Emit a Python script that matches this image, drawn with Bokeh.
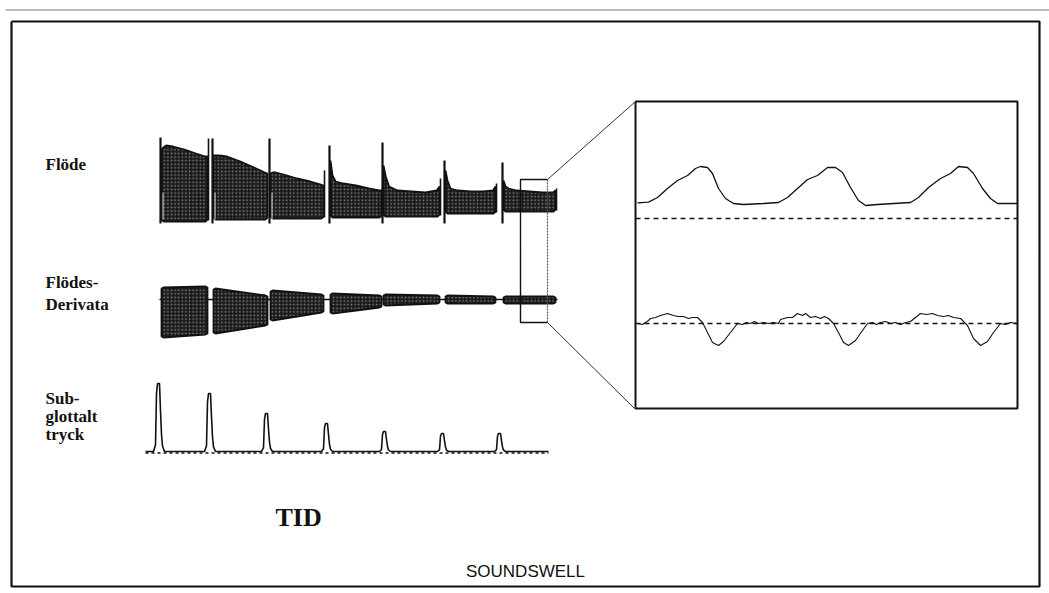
import numpy as np
from bokeh.plotting import figure
from bokeh.models import Range1d
from bokeh.embed import file_html
from bokeh.resources import INLINE
from bokeh.core.properties import value

W, H = 1049, 593

# ---------------------------------------------------------------
# Glottal cycles (time in samples from the start of the recording)
# ---------------------------------------------------------------
cycle_start = [16, 68, 125, 185, 238, 300, 358]
cycle_stop = [62, 122, 178, 236, 294, 350, 410]

# Airflow: peak at closure, envelope of the fast oscillation, floor
flow_spike = [85, 84, 84, 77, 80, 62, 60]
flow_end_peak = [84, 0, 52, 34, 44, 39, 34]
flow_env_frac = [0, 0.04, 0.1, 0.25, 0.5, 0.75, 0.95, 1.0]
flow_top = [
    [73, 75, 77, 76, 73, 69, 66, 66],
    [67, 67, 67, 66, 61, 55, 50, 49],
    [49, 50, 50, 48, 44, 41, 38, 37],
    [62, 47, 41, 39, 37, 34, 32, 32],
    [57, 46, 36, 32, 31, 30, 32, 36],
    [52, 42, 34, 32, 31, 31, 32, 36],
    [42, 36, 34, 32, 31, 30, 30, 32],
]
flow_floor = [1, 3, 4, 5, 6, 9, 11]

# Flow derivative envelope at the start / end of each cycle
deriv_top_start = [12, 11, 9, 6, 5, 4, 3]
deriv_top_end = [13, 4, 5, 4, 4, 3, 3]
deriv_bot_start = [-38, -34, -21, -14, -6, -4, -4]
deriv_bot_end = [-35, -26, -13, -8, -4, -4, -4]

# Subglottal pressure pulses
pulse_time = [13, 64, 121, 181, 239, 297, 354]
pulse_height = [68, 58, 38, 28, 20, 18, 18]
trace_length = 403

# Magnified excerpt: three periods of flow and its derivative
zoom_flow_t = [2, 13, 22, 32, 42, 52, 60, 65, 72, 77, 83, 90, 98, 108, 128, 143,
               152, 162, 172, 182, 192, 200, 207, 215, 223, 230, 242, 275,
               283, 293, 305, 315, 323, 332, 338, 347, 355, 362, 382]
zoom_flow_v = [15.7, 16.3, 21, 30, 38, 43, 50, 52, 51, 45, 30, 20, 15, 14, 15, 16,
               21, 30, 39, 43, 51, 51, 46, 31, 18, 13, 14, 16,
               21, 31, 40, 45, 52, 51, 45, 30, 20, 15, 15]
zoom_deriv_t = [2, 7, 13, 15, 20, 25, 32, 35, 38, 43, 48, 53, 57, 62, 67, 72, 77,
                83, 88, 95, 102, 107, 111, 115, 119, 123, 128, 133, 138, 143,
                145, 152, 157, 162, 167, 170, 175, 180, 185, 189, 193, 198, 203,
                208, 213, 220, 227, 232, 237, 241, 245, 250, 255, 260, 265, 270,
                275, 280, 285, 291, 297, 302, 308, 313, 318, 325, 332, 338, 345,
                352, 358, 365, 370, 375, 382]
zoom_deriv_v = [0, -1, 3, 5, 6, 8, 10, 9, 8, 7, 7, 5, 6, 6, 1, -9, -19,
                -22, -18, -9, 0, -1, 1, 0, 2, 0, 1, 0, 1, 0,
                4, 6, 6, 10, 8, 10, 6, 7, 5, 7, 5, 0, -9,
                -19, -22, -17, -7, 0, 1, -1, 1, 2, 0, 1, -1, 1,
                2, 6, 10, 9, 10, 8, 7, 8, 6, 5, -2, -15, -22,
                -18, -9, 0, -1, 1, 0]

# ---------------------------------------------------------------
# Canvas placement of the three recordings and the magnified view
# ---------------------------------------------------------------
X0 = 145          # left edge of the time axis
FLOW_Y0 = 222     # zero line of the airflow trace
DERIV_Y0 = 299    # zero line of the derivative trace
PRESS_Y0 = 451    # zero line of the pressure trace
BOX_X0, BOX_X1 = 635, 1017
BOX_Y0, BOX_Y1 = 101, 408
ZFLOW_Y0 = 218
ZDERIV_Y0 = 323

p = figure(width=W, height=H, output_backend="svg", toolbar_location=None,
           x_range=Range1d(0, W), y_range=Range1d(H, 0),
           min_border=0, outline_line_color=None)
p.axis.visible = False
p.grid.visible = False
p.background_fill_color = "white"
p.border_fill_color = "white"

ink = "#111111"
stipple = dict(fill_color="#1a1a1a", hatch_pattern="dot", hatch_color="white",
               hatch_alpha=0.45, hatch_scale=3.6, hatch_weight=1.0,
               line_color=ink, line_width=1.8)

# --- airflow blocks -------------------------------------------------
fxs, fys = [], []
for s, e, top, fl in zip(cycle_start, cycle_stop, flow_top, flow_floor):
    xs = [X0 + s + f * (e - s) for f in flow_env_frac]
    ys = [FLOW_Y0 - v for v in top]
    xs += [X0 + e, X0 + e - 2, X0 + s + 2, X0 + s]
    ys += [FLOW_Y0 - fl - 2, FLOW_Y0 - fl, FLOW_Y0 - fl, FLOW_Y0 - fl - 2]
    fxs.append(xs)
    fys.append(ys)
p.patches(fxs, fys, **stipple)

# closure peaks of the airflow
p.segment(x0=[X0 + s - 1 for s in cycle_start], y0=[FLOW_Y0 + 1] * 7,
          x1=[X0 + s - 1 for s in cycle_start],
          y1=[FLOW_Y0 - v for v in flow_spike], line_color=ink, line_width=2.2)
ex = [X0 + e + 1 for e, v in zip(cycle_stop, flow_end_peak) if v > 0]
ey = [FLOW_Y0 - v for v in flow_end_peak if v > 0]
eb = [FLOW_Y0 - fl - 1 for fl, v in zip(flow_floor, flow_end_peak) if v > 0]
p.segment(x0=ex, y0=eb, x1=ex, y1=ey, line_color=ink, line_width=1.6)
# light trace edge at each opening
p.segment(x0=[X0 + s + 1.5 for s in cycle_start[:3]],
          y0=[FLOW_Y0 - 30] * 3,
          x1=[X0 + s + 1.5 for s in cycle_start[:3]],
          y1=[FLOW_Y0 - 3] * 3, line_color="#dddddd", line_width=1)

# --- derivative blocks ------------------------------------------------
p.line([X0 + cycle_start[0] - 2, X0 + cycle_stop[-1] + 2], [DERIV_Y0, DERIV_Y0],
       line_color=ink, line_width=1.5)
dxs, dys = [], []
for s, e, ts, te, bs, be in zip(cycle_start, cycle_stop, deriv_top_start,
                                deriv_top_end, deriv_bot_start, deriv_bot_end):
    dxs.append([X0 + s, X0 + s + 2, X0 + e - 2, X0 + e,
                X0 + e, X0 + e - 2, X0 + s + 2, X0 + s])
    dys.append([DERIV_Y0 - ts + 1, DERIV_Y0 - ts, DERIV_Y0 - te, DERIV_Y0 - te + 1,
                DERIV_Y0 - be - 1, DERIV_Y0 - be, DERIV_Y0 - bs, DERIV_Y0 - bs - 1])
p.patches(dxs, dys, **stipple)

# --- subglottal pressure ---------------------------------------------------
pulse_dx = [-5, -3, -2, -1, 1, 2, 3, 4, 6]
pulse_shape = [0, 0.1, 0.85, 1.0, 1.0, 0.6, 0.25, 0.08, 0]
px, py = [X0], [PRESS_Y0]
for t, h in zip(pulse_time, pulse_height):
    for dx, r in zip(pulse_dx, pulse_shape):
        px.append(X0 + t + dx)
        py.append(PRESS_Y0 - r * h)
px.append(X0 + trace_length)
py.append(PRESS_Y0)
p.line(px, py, line_color=ink, line_width=1.6)
p.line([X0, X0 + trace_length], [PRESS_Y0 + 1.5] * 2, line_color=ink,
       line_width=1.3, line_dash="3 3")

# --- magnifier ---------------------------------------------------------
p.line([547, 520, 520, 547], [179, 179, 322, 322], line_color=ink,
       line_width=1.4)
p.line([547, 547], [179, 322], line_color="#555555", line_width=1.2,
       line_dash="2 1")
p.line([547, BOX_X0], [179, BOX_Y0], line_color="#333333", line_width=1)
p.line([547, BOX_X0 - 1], [322, BOX_Y1], line_color="#333333", line_width=1)
p.line([BOX_X0, BOX_X1, BOX_X1, BOX_X0, BOX_X0],
       [BOX_Y0, BOX_Y0, BOX_Y1, BOX_Y1, BOX_Y0], line_color=ink, line_width=2)

p.line([BOX_X0, BOX_X1], [ZFLOW_Y0] * 2, line_color=ink, line_width=1.3,
       line_dash="5 4")
p.line([BOX_X0, BOX_X1], [ZDERIV_Y0] * 2, line_color=ink, line_width=1.3,
       line_dash="5 4")
p.line([BOX_X0 + t for t in zoom_flow_t], [ZFLOW_Y0 - v for v in zoom_flow_v],
       line_color=ink, line_width=1.3)
p.line([BOX_X0 + t for t in zoom_deriv_t], [ZDERIV_Y0 - v for v in zoom_deriv_v],
       line_color=ink, line_width=1.1)

# --- frame ------------------------------------------------------------------
p.line([5, W], [9.5, 9.5], line_color="#777777", line_width=1)
p.line([11, 1039, 1039, 11, 11], [21, 21, 586, 586, 21], line_color=ink,
       line_width=2.2)

# --- labels -----------------------------------------------------------------
serif = value("Liberation Serif")
labels_x = [45, 45, 45, 45, 45, 45]
labels_y = [164, 282, 304, 398, 416, 434]
labels = ["Flöde", "Flödes-", "Derivata", "Sub-", "glottalt", "tryck"]
p.text(x=labels_x, y=labels_y, text=labels, text_font=serif,
       text_font_size="17px", text_font_style="bold", text_color=ink,
       text_baseline="middle", text_align="left")
p.text(x=[275], y=[517], text=["TID"], text_font=serif, text_font_size="26px",
       text_font_style="bold", text_color=ink, text_baseline="middle")
p.text(x=[525], y=[571], text=["SOUNDSWELL"], text_font=value("Liberation Sans"),
       text_font_size="17px", text_color=ink, text_baseline="middle",
       text_align="center")

open("out.html", "w").write(file_html(p, INLINE))
